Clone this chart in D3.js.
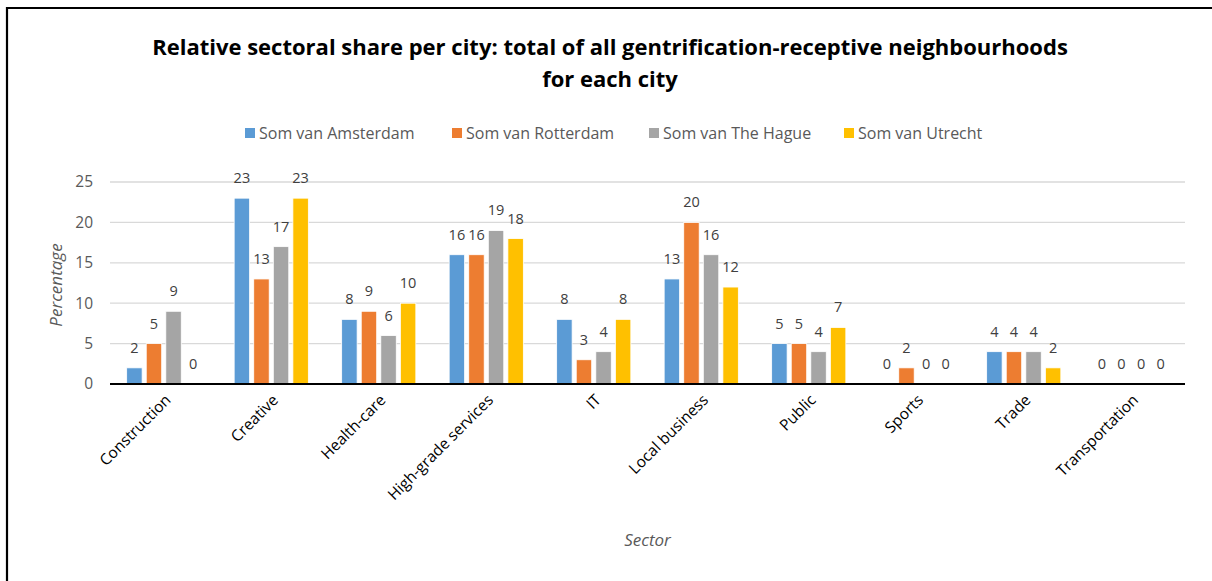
<!DOCTYPE html>
<html>
<head>
<meta charset="utf-8">
<script src="https://cdn.jsdelivr.net/npm/d3@7/dist/d3.min.js"></script>
<style>
  html, body { margin: 0; padding: 0; background: #fff; }
  svg { display: block; }
  text { font-family: "Open Sans", "Noto Sans", sans-serif; }
</style>
</head>
<body>
<svg id="chart" width="1212" height="581"></svg>
<script>
// Sector shares (%) per city
const sectors = ["Construction", "Creative", "Health-care", "High-grade services", "IT",
                 "Local business", "Public", "Sports", "Trade", "Transportation"];
const seriesNames = ["Som van Amsterdam", "Som van Rotterdam", "Som van The Hague", "Som van Utrecht"];
const amsterdam = [2, 23, 8, 16, 8, 13, 5, 0, 4, 0];
const rotterdam = [5, 13, 9, 16, 3, 20, 5, 2, 4, 0];
const theHague  = [9, 17, 6, 19, 4, 16, 4, 0, 4, 0];
const utrecht   = [0, 23, 10, 18, 8, 12, 7, 0, 2, 0];
const yTicks = [0, 5, 10, 15, 20, 25];
const colors = ["#5b9bd5", "#ed7d31", "#a5a5a5", "#ffc000"];

const seriesValues = [amsterdam, rotterdam, theHague, utrecht];

const svg = d3.select("#chart");

// outer frame (top and left edges)
svg.append("line").attr("x1", 6).attr("x2", 1212).attr("y1", 8).attr("y2", 8)
  .attr("stroke", "#000").attr("stroke-width", 2);
svg.append("line").attr("x1", 7).attr("x2", 7).attr("y1", 7).attr("y2", 581)
  .attr("stroke", "#000").attr("stroke-width", 2.2);

const plot = { left: 110, right: 1185, top: 182, bottom: 384 };

const x0 = d3.scaleBand().domain(sectors).range([plot.left, plot.right])
  .paddingInner(0.31).paddingOuter(0.155);
const x1 = d3.scaleBand().domain(seriesNames).range([0, x0.bandwidth()])
  .paddingInner(0.21).paddingOuter(0);
const y = d3.scaleLinear().domain([0, 25]).range([plot.bottom, plot.top]);

// gridlines
svg.append("g").selectAll("line").data(yTicks.filter(t => t > 0)).join("line")
  .attr("x1", plot.left).attr("x2", plot.right)
  .attr("y1", d => y(d)).attr("y2", d => y(d))
  .attr("stroke", "#d9d9d9").attr("stroke-width", 1.3);

// y axis labels
const yAxis = d3.axisLeft(y).tickValues(yTicks).tickSize(0).tickPadding(17);
const gy = svg.append("g").attr("transform", `translate(${plot.left},0)`).call(yAxis);
gy.select(".domain").remove();
gy.selectAll("text").attr("font-size", 15.5).attr("fill", "#595959")
  .style("font-family", '"Open Sans", sans-serif');

// bars
const groups = svg.append("g").selectAll("g").data(sectors).join("g")
  .attr("transform", d => `translate(${x0(d)},0)`);

groups.each(function(sector, i) {
  const g = d3.select(this);
  const rows = seriesNames.map((s, k) => ({ series: s, k, value: seriesValues[k][i] }));
  g.selectAll("rect").data(rows).join("rect")
    .attr("x", d => x1(d.series))
    .attr("width", x1.bandwidth())
    .attr("y", d => y(d.value))
    .attr("height", d => y(0) - y(d.value))
    .attr("fill", d => colors[d.k])
    .attr("stroke", "#fff").attr("stroke-width", 0.8);
  g.selectAll("text.val").data(rows).join("text")
    .attr("class", "val")
    .attr("x", d => x1(d.series) + x1.bandwidth() / 2)
    .attr("y", d => y(d.value) - 15)
    .attr("text-anchor", "middle")
    .attr("font-size", 14.5)
    .attr("fill", "#404040")
    .text(d => d.value);
});

// baseline
svg.append("line").attr("x1", plot.left).attr("x2", plot.right)
  .attr("y1", y(0)).attr("y2", y(0)).attr("stroke", "#000").attr("stroke-width", 1.8);

// x axis category labels
const xAxis = d3.axisBottom(x0).tickSize(0).tickPadding(0);
const gx = svg.append("g").attr("transform", `translate(0,${plot.bottom})`).call(xAxis);
gx.select(".domain").remove();
gx.selectAll("text")
  .attr("font-size", 15.5).attr("fill", "#000")
  .style("font-family", '"Open Sans", sans-serif')
  .attr("text-anchor", "end")
  .attr("dy", 0)
  .attr("transform", "translate(8,17) rotate(-45)");

// axis titles
svg.append("text").attr("transform", `translate(62,${(plot.top + plot.bottom) / 2 + 2}) rotate(-90)`)
  .attr("text-anchor", "middle").attr("font-size", 17).attr("font-style", "italic")
  .attr("fill", "#595959").text("Percentage");
svg.append("text").attr("x", (plot.left + plot.right) / 2).attr("y", 546)
  .attr("text-anchor", "middle").attr("font-size", 17).attr("font-style", "italic")
  .attr("fill", "#595959").text("Sector");

// title
const title = svg.append("text").attr("text-anchor", "middle")
  .attr("font-size", 22).attr("font-weight", "bold").attr("fill", "#000");
title.append("tspan").attr("x", 610).attr("y", 55)
  .text("Relative sectoral share per city: total of all gentrification-receptive neighbourhoods");
title.append("tspan").attr("x", 610).attr("y", 87).text("for each city");

// legend
const legendX = [245, 452, 649, 844];
const legend = svg.append("g").selectAll("g").data(seriesNames).join("g")
  .attr("transform", (d, i) => `translate(${legendX[i]},133)`);
legend.append("rect").attr("x", 0).attr("y", -5).attr("width", 10).attr("height", 10)
  .attr("fill", (d, i) => colors[i]);
legend.append("text").attr("x", 14).attr("y", 6).attr("font-size", 16)
  .attr("fill", "#595959").text(d => d);
</script>
</body>
</html>
